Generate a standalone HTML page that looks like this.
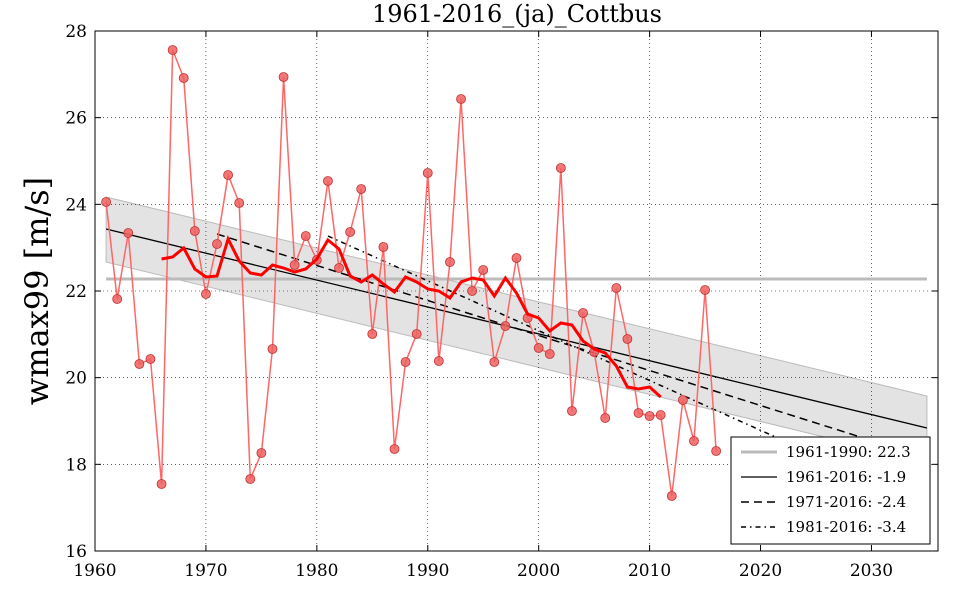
<!DOCTYPE html>
<html><head><meta charset="utf-8"><style>
html,body{margin:0;padding:0;background:#fff;width:960px;height:600px;overflow:hidden}
svg text{font-family:"DejaVu Serif","Liberation Serif",serif}
</style></head><body>
<svg id="s" width="960" height="600" xmlns="http://www.w3.org/2000/svg"></svg>
<script>
const X=y=>95+(y-1960)*(843/76), Y=v=>31+(28-v)*(520/12);
let h='';
const b0=[X(1961),197,262], b1=[X(2035),396,462];
h+=`<polygon points="${b0[0]},${b0[1]} ${b1[0]},${b1[1]} ${b1[0]},${b1[2]} ${b0[0]},${b0[2]}" fill="#c8c8c8" fill-opacity="0.5" stroke="#bbb" stroke-width="1"/>`;
for(let yr=1970;yr<=2030;yr+=10)h+=`<line x1="${X(yr)}" y1="31" x2="${X(yr)}" y2="551" stroke="#000" stroke-width="0.6" stroke-dasharray="1,3"/>`;
for(let v=18;v<=26;v+=2)h+=`<line x1="95" y1="${Y(v)}" x2="938" y2="${Y(v)}" stroke="#000" stroke-width="0.6" stroke-dasharray="1,3"/>`;
h+=`<line x1="${X(1961)}" y1="279" x2="${X(2035)}" y2="279" stroke="#bbb" stroke-width="3"/>`;
h+=`<line x1="${X(1961)}" y1="229" x2="${X(2035)}" y2="428" stroke="#000" stroke-width="1.3"/>`;
h+=`<line x1="${X(1971)}" y1="234" x2="${X(2035)}" y2="458" stroke="#000" stroke-width="1.5" stroke-dasharray="8,5"/>`;
h+=`<line x1="${X(1981)}" y1="236" x2="${X(2035)}" y2="505" stroke="#000" stroke-width="1.5" stroke-dasharray="5,4,1.5,4"/>`;
const py=[202,299,233,364,359,484,50,78,231,294,244,175,203,479,453,349,77,265,236,260,181,268,232,189,334,247,449,362,334,173,361,262,99,291,270,362,326,258,318,348,354,168,411,313,352,418,288,339,413,416,415,496,400,441,290,451];
let p=py.map((y,i)=>X(1961+i)+','+y).join(' ');
h+=`<polyline points="${p}" fill="none" stroke="#ff6666" stroke-width="1.5"/>`;
py.forEach((y,i)=>h+=`<circle cx="${X(1961+i)}" cy="${y}" r="4.5" fill="#f06060" fill-opacity="0.85" stroke="#c03030" stroke-width="0.8"/>`);
const ma=[259,257,248,269,277,276,239,261,273,275,265,268,272,269,259,240,249,276,282,275,284,292,277,282,289,291,298,282,278,280,296,278,293,314,318,331,323,325,341,349,353,366,387,389,387,397];
h+=`<polyline points="${ma.map((y,i)=>X(1966+i)+','+y).join(' ')}" fill="none" stroke="#ff0000" stroke-width="3"/>`;
h+=`<rect x="95" y="31" width="843" height="520" fill="none" stroke="#000" stroke-width="1"/>`;
for(let yr=1960;yr<=2030;yr+=10){const x=X(yr);h+=`<line x1="${x}" y1="551" x2="${x}" y2="545" stroke="#000"/><line x1="${x}" y1="31" x2="${x}" y2="37" stroke="#000"/><text x="${x}" y="576" font-size="17" text-anchor="middle">${yr}</text>`;}
for(let v=16;v<=28;v+=2){const y=Y(v);h+=`<line x1="95" y1="${y}" x2="101" y2="${y}" stroke="#000"/><line x1="938" y1="${y}" x2="932" y2="${y}" stroke="#000"/><text x="87" y="${y+6}" font-size="17" text-anchor="end">${v}</text>`;}
h+=`<text x="517" y="22" font-size="24" text-anchor="middle">1961-2016_(ja)_Cottbus</text>`;
h+=`<text transform="translate(48,291) rotate(-90)" font-size="32" text-anchor="middle">wmax99 [m/s]</text>`;
h+=`<rect x="731" y="437" width="199" height="107" fill="#fff" stroke="#000"/>`;
const L=[["1961-1990: 22.3",'stroke="#bbb" stroke-width="3"'],["1961-2016: -1.9",'stroke="#000" stroke-width="1.3"'],["1971-2016: -2.4",'stroke="#000" stroke-width="1.5" stroke-dasharray="8,5"'],["1981-2016: -3.4",'stroke="#000" stroke-width="1.5" stroke-dasharray="5,4,1.5,4"']];
L.forEach((l,i)=>{const y=452+i*25;h+=`<line x1="741" y1="${y}" x2="777" y2="${y}" ${l[1]}/><text x="786" y="${y+5}" font-size="15">${l[0]}</text>`;});
document.getElementById('s').innerHTML=h;
</script>
</body></html>
